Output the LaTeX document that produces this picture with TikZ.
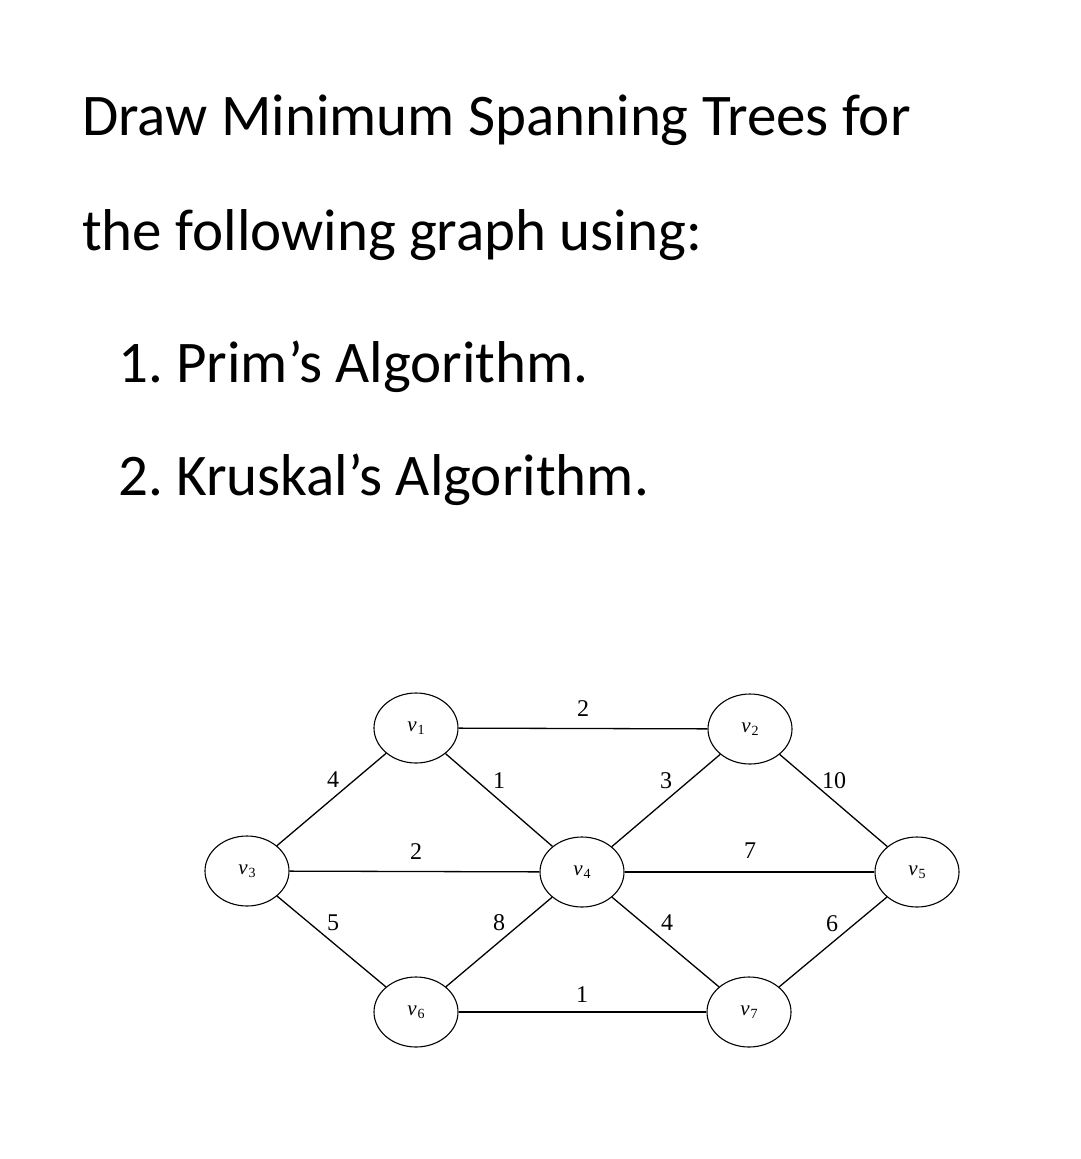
\documentclass[tikz,border=0pt]{standalone}
\usepackage{fontspec}
\setmainfont{Carlito}
\newfontfamily\oldserif{Liberation Serif}
\usetikzlibrary{shapes.geometric}
\frenchspacing
\tikzset{
  vtx/.style={draw,ellipse,line width=1.1pt,minimum width=84pt,minimum height=70pt,inner sep=0pt},
  wt/.style={font=\oldserif\fontsize{24}{24}\selectfont},
  edge/.style={line width=1.3pt},
  hd/.style={anchor=base west,inner sep=0pt,font=\fontsize{59}{59}\selectfont},
}
\newcommand{\vlab}[1]{{\oldserif\fontsize{21}{21}\selectfont\itshape v}\kern1pt\raisebox{-3pt}{\oldserif\fontsize{14}{14}\selectfont #1}}

\begin{document}
\begin{tikzpicture}[x=1pt,y=-1pt]
\useasboundingbox (0,0) rectangle (1080,1159);
% question text
\node[hd] (q1) at (82,135) {Draw Minimum Spanning Trees for};
\node[hd] (q2) at (82,250) {the following graph using:};
\node[hd] (q3) at (118,382) {1. Prim’s Algorithm.};
\node[hd] (q4) at (118,495) {2. Kruskal’s Algorithm.};
% vertices
\node[vtx] (v1) at (416,728) {\vlab{1}};
\node[vtx] (v2) at (750,729) {\vlab{2}};
\node[vtx] (v3) at (247,871) {\vlab{3}};
\node[vtx] (v4) at (582,872) {\vlab{4}};
\node[vtx] (v5) at (917,872) {\vlab{5}};
\node[vtx] (v6) at (416,1012) {\vlab{6}};
\node[vtx] (v7) at (749,1012) {\vlab{7}};
% edges
\draw[edge] (v1) -- (v2);
\draw[edge] (v3) -- (v1);
\draw[edge] (v1) -- (v4);
\draw[edge] (v3) -- (v4);
\draw[edge] (v4) -- (v2);
\draw[edge] (v2) -- (v5);
\draw[edge] (v4) -- (v5);
\draw[edge] (v3) -- (v6);
\draw[edge] (v6) -- (v4);
\draw[edge] (v4) -- (v7);
\draw[edge] (v7) -- (v5);
\draw[edge] (v6) -- (v7);
% weights
\node[wt] (w12) at (583,709) {2};
\node[wt] (w13) at (333,780) {4};
\node[wt] (w14) at (499,781) {1};
\node[wt] (w34) at (416,852) {2};
\node[wt] (w24) at (666,781) {3};
\node[wt] (w25) at (834,781) {10};
\node[wt] (w45) at (750,851) {7};
\node[wt] (w36) at (333,923) {5};
\node[wt] (w46) at (499,923) {8};
\node[wt] (w47) at (667,923) {4};
\node[wt] (w57) at (832,924) {6};
\node[wt] (w67) at (582,995) {1};
\end{tikzpicture}
\end{document}
